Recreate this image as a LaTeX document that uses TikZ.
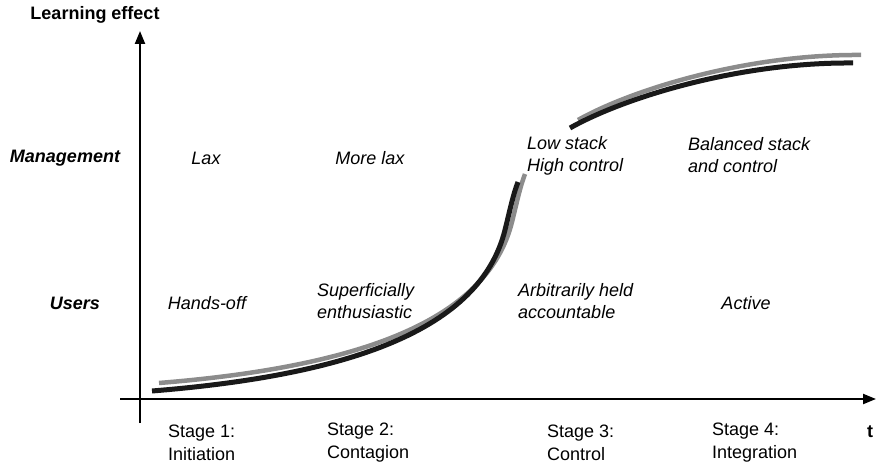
\documentclass[tikz,border=0pt]{standalone}
\usepackage{fontspec}
\setmainfont{Liberation Sans}
\usetikzlibrary{arrows.meta}

\tikzset{
	axisline/.style={line width=2.2pt, -{Triangle[length=13pt,width=10pt]}},
	rowlabel/.style={inner sep=0pt, font=\fontsize{18}{22}\selectfont\bfseries\itshape},
	cell/.style={inner sep=0pt, align=left, font=\fontsize{18}{22}\selectfont\itshape},
	stagelabel/.style={inner sep=0pt, anchor=west, align=left, font=\fontsize{18}{23}\selectfont},
	curvefront/.style={line width=5pt, black!90},
	curveback/.style={line width=4.5pt, black!45}
}

\begin{document}
\begin{tikzpicture}[x=1pt,y=-1pt]
		\useasboundingbox (0,0) rectangle (876,465);
		
		% axes
		\coordinate (xstart) at (120,399);
		\coordinate (xend) at (876,399);
		\coordinate (ystart) at (140,423);
		\coordinate (yend) at (140,31);
		\draw[axisline] (xstart) -- (xend);
		\draw[axisline] (ystart) -- (yend);
		
		\node[rowlabel, font=\fontsize{18}{22}\selectfont\bfseries] (yaxislabel) at (95,15) {Learning effect};
		\node[rowlabel, font=\fontsize{18}{22}\selectfont\bfseries] (xaxislabel) at (870,432) {t};
		
		% learning curve
		\draw[curveback, shift={(7,-8)}] (152,391) .. controls (350,375) and (480,330) .. (505,230)
			.. controls (510,210) and (513,195) .. (518,182);
		\draw[curveback, shift={(8,-8)}] (570,128) .. controls (625,97) and (740,62) .. (853,63);
		\draw[curvefront] (152,391) .. controls (350,375) and (480,330) .. (505,230)
			.. controls (510,210) and (513,195) .. (518,182);
		\draw[curvefront] (570,128) .. controls (625,97) and (740,62) .. (853,63);
		
		% rows
		\node[rowlabel] (management) at (65,158) {Management};
		\node[rowlabel] (users) at (75,303) {Users};
		
		\node[cell] (lax) at (206,158) {Lax};
		\node[cell] (morelax) at (370,158) {More lax};
		\node[cell, anchor=west] (lowstack) at (527,156) {Low stack\\High control};
		\node[cell, anchor=west] (balanced) at (688,155) {Balanced stack\\and control};
		
		\node[cell] (handsoff) at (207,303) {Hands-off};
		\node[cell, anchor=west] (superficially) at (317,301) {Superficially\\enthusiastic};
		\node[cell, anchor=west] (arbitrarily) at (518,301) {Arbitrarily held\\accountable};
		\node[cell] (active) at (746,303) {Active};
		
		% stages
		\node[stagelabel] (stageone) at (168,443) {Stage 1:\\Initiation};
		\node[stagelabel] (stagetwo) at (327,443) {Stage 2:\\Contagion};
		\node[stagelabel] (stagethree) at (547,443) {Stage 3:\\Control};
		\node[stagelabel] (stagefour) at (712,443) {Stage 4:\\Integration};
\end{tikzpicture}
\end{document}
